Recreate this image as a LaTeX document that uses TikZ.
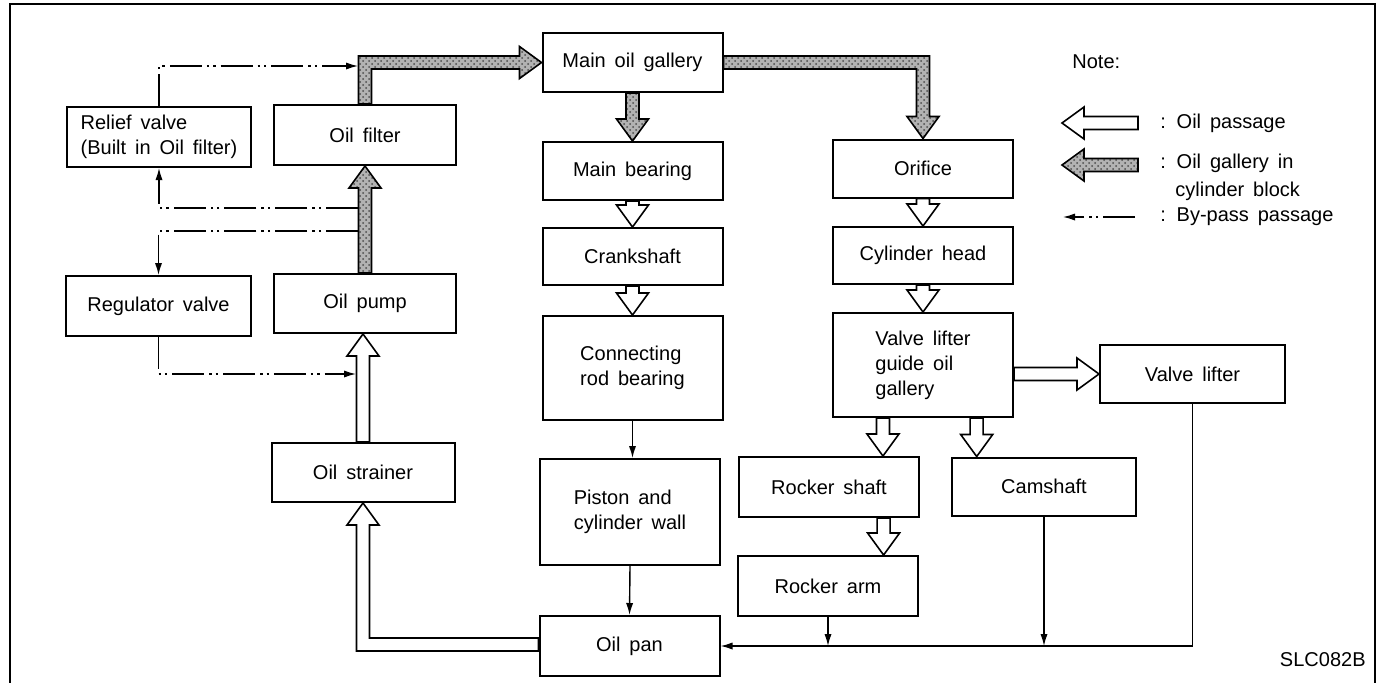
\documentclass[tikz,border=0pt]{standalone}
\usepackage{fontspec}
\setmainfont{Liberation Sans}[WordSpace=1.6]
\usetikzlibrary{arrows.meta, calc, patterns}

% block arrow from #2 to #3, drawn with style #1
\newcommand{\passage}[3]{%
  \draw[#1] ($#2!3.25pt!90:#3$) -- ($#3!11pt!#2!3.25pt!90:#3$)
    -- ($#3!11pt!#2!8pt!90:#3$) -- #3 -- ($#3!11pt!#2!8pt!-90:#3$)
    -- ($#3!11pt!#2!3.25pt!-90:#3$) -- ($#2!3.25pt!-90:#3$) -- cycle;}

\begin{document}
\begin{tikzpicture}[
  x=0.5pt, y=-0.5pt,
  font=\fontsize{10}{12.5}\selectfont,
  box/.style={draw, line width=1pt, minimum width=90pt, minimum height=29pt, inner sep=2pt, align=center},
  tallbox/.style={box, minimum height=52pt, align=left},
  oil/.style={draw, line width=0.8pt, fill=white},
  gallery/.style={draw, line width=0.8pt, preaction={fill=black!30}, pattern=crosshatch dots, pattern color=black!70},
  bypass/.style={draw, line width=0.7pt, dash pattern=on 16pt off 2.5pt on 1.2pt off 2pt on 1.2pt off 2.5pt, -{Latex[length=6pt,width=3.6pt]}},
  ret/.style={draw, line width=0.7pt, -{Latex[length=6pt,width=3.6pt]}},
  note/.style={anchor=west, inner sep=0pt}
]
\useasboundingbox (0,0) rectangle (1377,682);

% frame
\draw[line width=1pt] (10,692) -- (10,4) -- (1375,4) -- (1375,692);

% left column
\node[box, minimum width=92pt, minimum height=30pt, align=left] (relief) at (159,137) {Relief valve\\(Built in Oil filter)};
\node[box, minimum width=91pt, minimum height=30pt] (filter) at (365,135) {Oil filter};
\node[box, minimum width=92.5pt, minimum height=30pt] (regul) at (158.5,306) {Regulator valve};
\node[box, minimum width=91pt, minimum height=29.5pt] (pump) at (365,303.5) {Oil pump};
\node[box, minimum width=91.5pt, minimum height=29.5pt] (strainer) at (363,472.5) {Oil strainer};

% middle column
\node[box, minimum height=29.5pt] (maingal) at (632.5,62.5) {Main oil gallery};
\node[box] (mainbear) at (632.5,171) {Main bearing};
\node[box, minimum height=28.5pt] (crank) at (632.5,256.5) {Crankshaft};
\node[tallbox] (conrod) at (632.5,368) {Connecting\\rod bearing};
\node[tallbox, minimum height=53pt] (piston) at (630,512) {Piston and\\cylinder wall};
\node[box, minimum height=30pt] (oilpan) at (629.5,646) {Oil pan};

% right column
\node[box] (orifice) at (923,168.5) {Orifice};
\node[box, minimum height=28.5pt] (cylhead) at (923,255.5) {Cylinder head};
\node[tallbox] (guide) at (923,365) {Valve lifter\\guide oil\\gallery};
\node[box, minimum width=92.5pt] (lifter) at (1192.5,374) {Valve lifter};
\node[box, minimum height=30pt] (rshaft) at (829,487) {Rocker shaft};
\node[box, minimum width=92pt] (cam) at (1044,486.5) {Camshaft};
\node[box, minimum height=30pt] (rarm) at (828,586) {Rocker arm};

% helper points
\coordinate (gLift) at (guide.east |- lifter.west);
\coordinate (gRS) at ($(guide.south west)!.28!(guide.south east)$);
\coordinate (gRSend) at (gRS |- rshaft.north);
\coordinate (gCam) at ($(guide.south west)!.795!(guide.south east)$);
\coordinate (gCamend) at (gCam |- cam.north);
\coordinate (rsArm) at ($(rshaft.south west)!.8!(rshaft.south east)$);
\coordinate (rsArmend) at (rsArm |- rarm.north);
\coordinate (stTop) at (strainer.north |- pump.south);
\coordinate (tapA) at (358,66);
\coordinate (tapB) at (358,208);
\coordinate (tapC) at (358,231);
\coordinate (tapD) at (356,374);

% oil gallery in cylinder block
\draw[gallery] ($(filter.north)+(-6.5,0)$) |- ($(maingal.west)+(-22,-6.5)$) -- ++(0,-9.5)
  -- (maingal.west) -- ++(-22,16) -- ++(0,-9.5) -| ($(filter.north)+(6.5,0)$) -- cycle;
\draw[gallery] ($(maingal.east)+(0,-6.5)$) -| ($(orifice.north)+(6.5,-22)$) -- ++(9.5,0)
  -- (orifice.north) -- ++(-16,-22) -- ++(9.5,0) |- ($(maingal.east)+(0,6.5)$) -- cycle;
\passage{gallery}{(pump.north)}{(filter.south)}
\passage{gallery}{(maingal.south)}{(mainbear.north)}

% oil passages
\passage{oil}{(mainbear.south)}{(crank.north)}
\passage{oil}{(crank.south)}{(conrod.north)}
\passage{oil}{(orifice.south)}{(cylhead.north)}
\passage{oil}{(cylhead.south)}{(guide.north)}
\passage{oil}{(gLift)}{(lifter.west)}
\passage{oil}{(gRS)}{(gRSend)}
\passage{oil}{(gCam)}{(gCamend)}
\passage{oil}{(rsArm)}{(rsArmend)}
\passage{oil}{(strainer.north)}{(stTop)}
\draw[oil] ($(oilpan.west)+(0,-8)$) -| ($(strainer.south)+(6.5,22)$) -- ++(9.5,0)
  -- (strainer.south) -- ++(-16,22) -- ++(9.5,0) |- ($(oilpan.west)+(0,5)$) -- cycle;

% by-pass passages
\draw[bypass] (relief.north) |- (tapA);
\draw[bypass] (tapB) -| (relief.south);
\draw[bypass] (tapC) -| (regul.north);
\draw[bypass] (regul.south) |- (tapD);

% return to oil pan
\draw[ret] (conrod.south) -- (conrod.south |- piston.north);
\draw[ret] (piston.south) -- (oilpan.north);
\draw[ret] (lifter.south) |- (oilpan.east);
\draw[ret] (rarm.south) -- (rarm.south |- oilpan.east);
\draw[ret] (cam.south) -- (cam.south |- oilpan.east);

% legend
\node[note] (note) at (1072,62) {Note:};
\coordinate (lgOilA) at (1138,123);
\coordinate (lgOilB) at (1062,123);
\passage{oil}{(lgOilA)}{(lgOilB)}
\node[note] (lgOil) at (1160,123) {: Oil passage};
\coordinate (lgGalA) at (1138,165);
\coordinate (lgGalB) at (1062,165);
\passage{gallery}{(lgGalA)}{(lgGalB)}
\node[note] (lgGal) at (1160,163) {: Oil gallery in};
\node[note] (lgGal2) at (1175,191) {cylinder block};
\coordinate (lgByA) at (1135,217);
\coordinate (lgByB) at (1063,217);
\draw[bypass] (lgByA) -- (lgByB);
\node[note] (lgBy) at (1160,217) {: By-pass passage};

\node[anchor=east, inner sep=0pt] (code) at (1366,660) {SLC082B};
\end{tikzpicture}
\end{document}
